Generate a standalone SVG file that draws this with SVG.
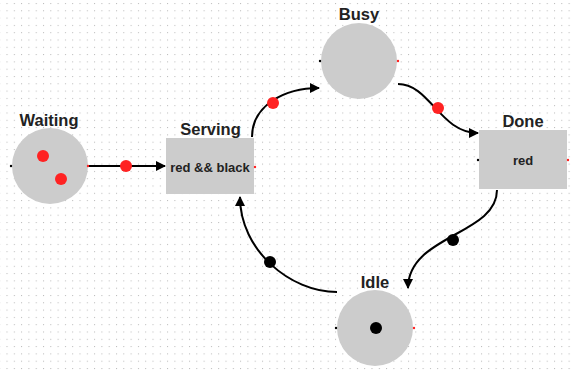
<svg xmlns="http://www.w3.org/2000/svg" width="574" height="371" viewBox="0 0 574 371">
  <style>
    .place { fill: #cccccc; }
    .trans { fill: #cccccc; }
    .label { font-family: "Liberation Sans", Arial, sans-serif; font-weight: bold; font-size: 16.5px; fill: #222; text-anchor: middle; }
    .guard { font-family: "Liberation Sans", Arial, sans-serif; font-weight: bold; font-size: 13px; fill: #222; text-anchor: middle; }
    .arc { fill: none; stroke: #000; stroke-width: 2; }
    .tok-red { fill: #ff2222; }
    .tok-black { fill: #000; }
    .port-in { fill: #000; }
    .port-out { fill: #ff2222; }
  </style>
  <defs>
    <pattern id="grid" x="6.5" y="3" width="7.3" height="7.3" patternUnits="userSpaceOnUse">
      <rect x="0" y="0" width="1" height="1" fill="#b8b8b8"/>
    </pattern>
    <marker id="head" viewBox="0 0 10 10" refX="9" refY="5" markerWidth="10" markerHeight="10" markerUnits="userSpaceOnUse" orient="auto">
      <path d="M0,0 L10,5 L0,10 Z" fill="#000"/>
    </marker>
  </defs>

  <rect width="574" height="371" fill="#ffffff"/>
  <rect width="574" height="371" fill="url(#grid)"/>

  <!-- connectors with their tokens -->
  <g id="arcs">
    <path class="arc" d="M88,166 L165,166" marker-end="url(#head)"/>
    <path class="arc" d="M252,137 C252,105 285,88 319,88" marker-end="url(#head)"/>
    <path class="arc" d="M398,84 C430,84 440,133 478,133" marker-end="url(#head)"/>
    <path class="arc" d="M497,190 C497,235 408,235 408,288" marker-end="url(#head)"/>
    <path class="arc" d="M337,292 C290,292 240,250 240,197" marker-end="url(#head)"/>
    <circle class="tok-red" cx="126" cy="166" r="6"/>
    <circle class="tok-red" cx="273" cy="103" r="6"/>
    <circle class="tok-red" cx="438" cy="108" r="6"/>
    <circle class="tok-black" cx="453" cy="240" r="6"/>
    <circle class="tok-black" cx="270" cy="262" r="6"/>
  </g>

  <g id="waiting">
    <circle class="place" cx="50" cy="166" r="38"/>
    <circle class="port-in" cx="11" cy="166" r="1.2"/>
    <circle class="port-out" cx="88" cy="166" r="1.2"/>
    <circle class="tok-red" cx="43" cy="156" r="6"/>
    <circle class="tok-red" cx="61" cy="179" r="6"/>
    <text class="label" x="49" y="126">Waiting</text>
  </g>

  <g id="serving">
    <rect class="trans" x="166" y="138" width="88" height="56"/>
    <circle class="port-out" cx="255" cy="167" r="1.2"/>
    <text class="guard" x="210" y="171.5">red &amp;&amp; black</text>
    <text class="label" x="210.5" y="135">Serving</text>
  </g>

  <g id="busy">
    <circle class="place" cx="359" cy="61" r="38"/>
    <circle class="port-in" cx="320" cy="61" r="1.2"/>
    <circle class="port-out" cx="398" cy="61" r="1.2"/>
    <text class="label" x="359" y="20">Busy</text>
  </g>

  <g id="done">
    <rect class="trans" x="479" y="130" width="88" height="59"/>
    <circle class="port-in" cx="478" cy="160" r="1.2"/>
    <circle class="port-out" cx="568" cy="160" r="1.2"/>
    <text class="guard" x="523" y="164.5">red</text>
    <text class="label" x="523" y="127">Done</text>
  </g>

  <g id="idle">
    <circle class="place" cx="375" cy="328" r="38"/>
    <circle class="port-in" cx="336" cy="328" r="1.2"/>
    <circle class="port-out" cx="414" cy="328" r="1.2"/>
    <circle class="tok-black" cx="376" cy="328" r="6"/>
    <text class="label" x="375" y="288">Idle</text>
  </g>
</svg>
